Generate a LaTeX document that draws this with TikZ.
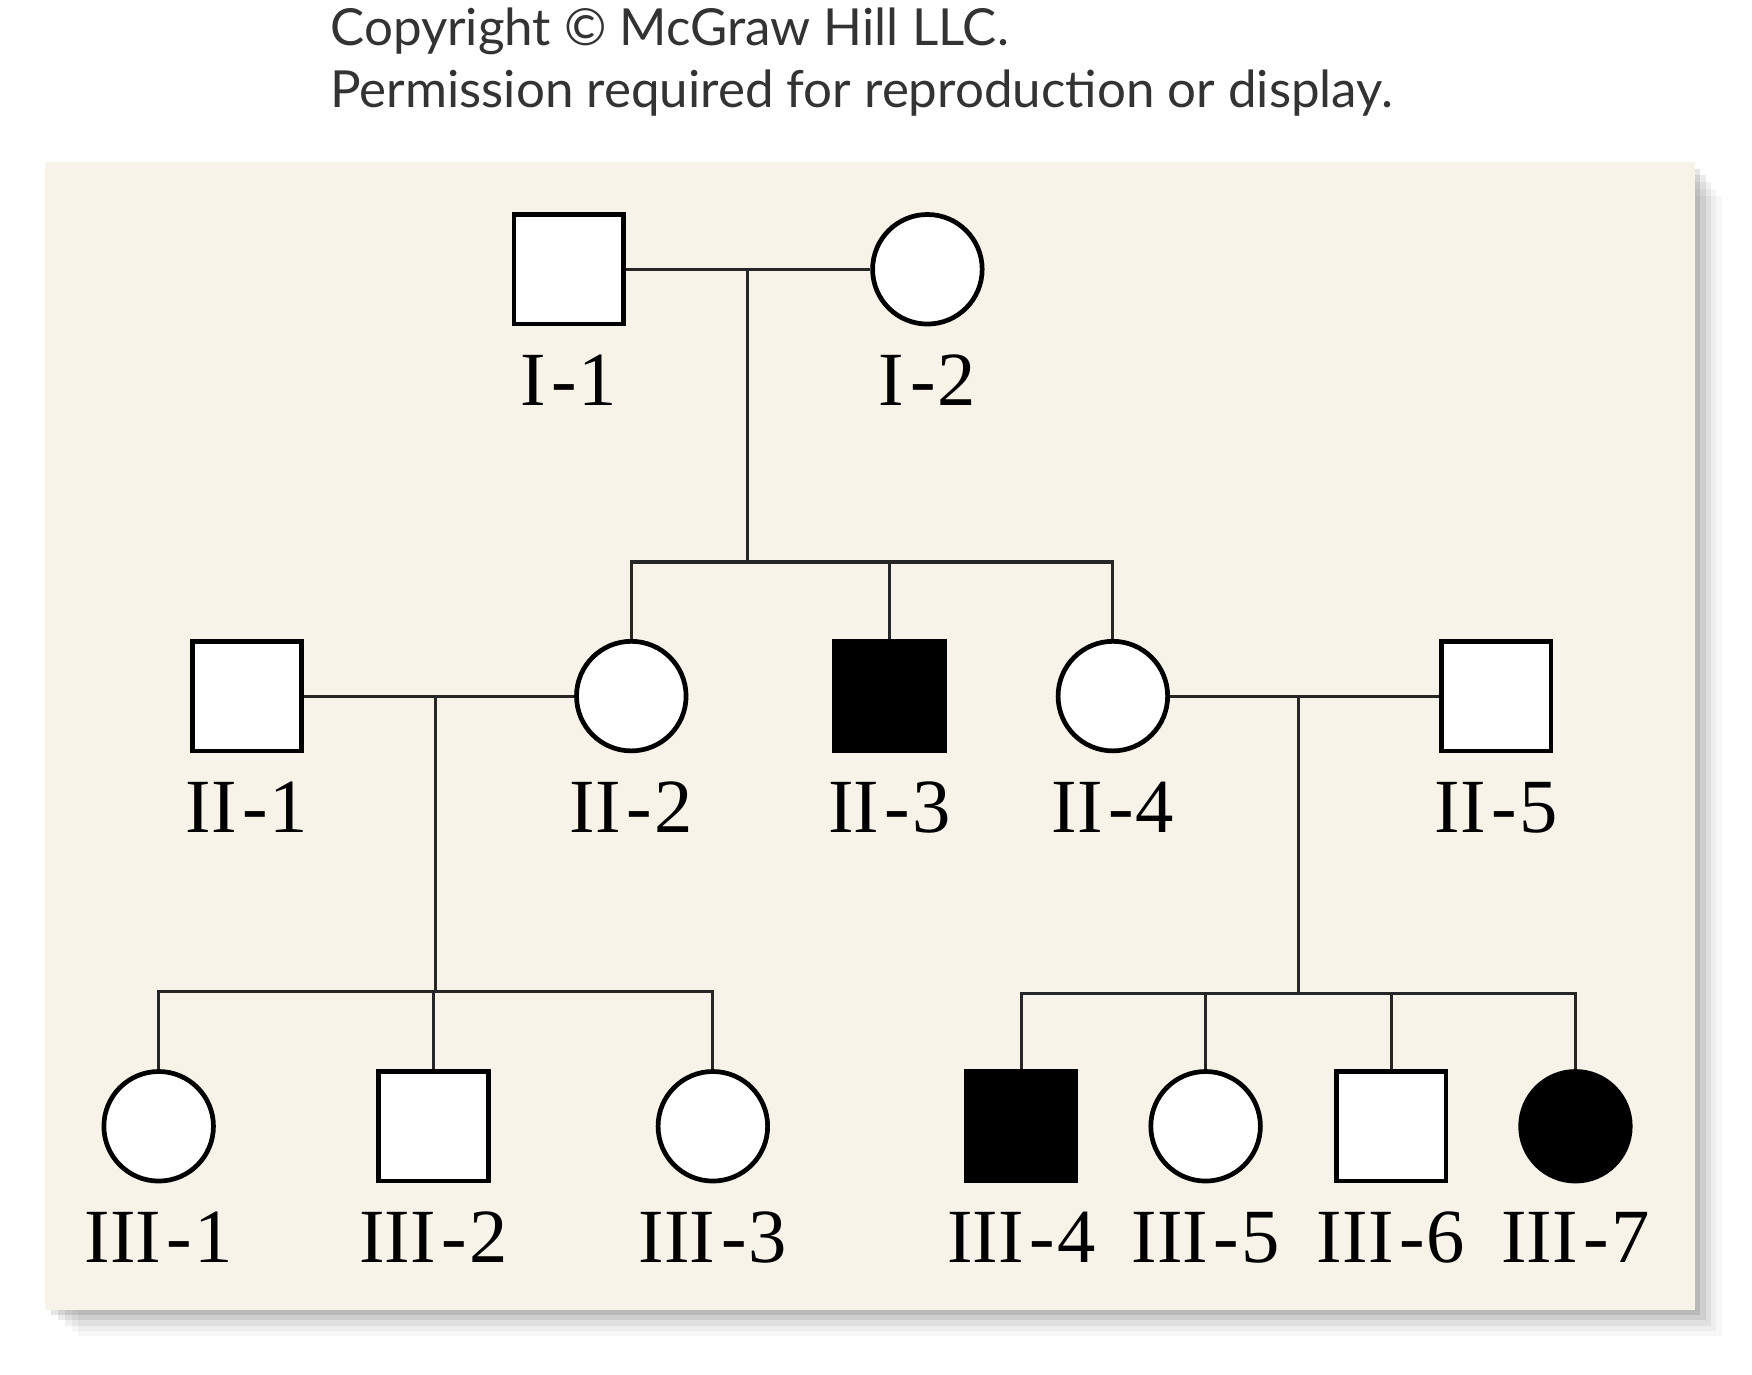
\documentclass[tikz,border=0pt]{standalone}
\usepackage{fontspec}
\setmainfont{Liberation Serif}
\newfontfamily\headfont{Lato}
\usetikzlibrary{positioning}
\definecolor{panel}{HTML}{F7F3E8}
\tikzset{
  male/.style={draw, line width=1.2pt, fill=white, minimum size=0.98cm, inner sep=0pt},
  female/.style={male, circle},
  sick/.style={fill=black},
  lab/.style={font=\fontsize{19.5}{20}\selectfont, inner sep=0pt},
  link/.style={line width=0.8pt, draw=black!85}
}
\newcommand{\pid}[2]{#1\kern1.5pt-\kern0.5pt#2}
\begin{document}
\begin{tikzpicture}[x=0.01cm,y=-0.01cm]
  \useasboundingbox (0,0) rectangle (1568,1230);

  \node[anchor=west, font=\headfont\fontsize{13}{15}\selectfont, text=black!80, inner sep=0pt] (copy) at (295,28) {Copyright \textcopyright\ McGraw Hill LLC.};
  \node[anchor=west, font=\headfont\fontsize{13}{15}\selectfont, text=black!80, inner sep=0pt] (perm) at (295,83) {Permission required for reproduction or display.};

  % shadow and panel
  \foreach \d/\o in {20/0.03,16/0.04,12/0.06,8/0.08,4/0.1}
    \fill[black, opacity=\o] (40+\d*1.5,145+\d*1.5) rectangle (1517+\d*1.2,1172+\d*1.2);
  \fill[panel] (40,145) rectangle (1517,1172);

  % generation I
  \node[male] (I1) at (509,241) {};
  \node[female] (I2) at (830,241) {};

  % generation II
  \node[male] (II1) at (221,623) {};
  \node[female] (II2) at (565,623) {};
  \node[male, sick] (II3) at (796,623) {};
  \node[female] (II4) at (996,623) {};
  \node[male] (II5) at (1339,623) {};

  % generation III
  \node[female] (III1) at (142,1008) {};
  \node[male] (III2) at (388,1008) {};
  \node[female] (III3) at (638,1008) {};
  \node[male, sick] (III4) at (914,1008) {};
  \node[female] (III5) at (1079,1008) {};
  \node[male] (III6) at (1245,1008) {};
  \node[female, sick] (III7) at (1410,1008) {};

  % labels
  \node[lab, below=0.25cm of I1] (lI1) {\pid{I}{1}};
  \node[lab, below=0.25cm of I2] (lI2) {\pid{I}{2}};
  \foreach \n in {1,...,5}
    \node[lab, below=0.25cm of II\n] (lII\n) {\pid{II}{\n}};
  \foreach \n in {1,...,7}
    \node[lab, below=0.25cm of III\n] (lIII\n) {\pid{III}{\n}};

  % couples and sibship lines
  \coordinate (m1) at (669,241);
  \coordinate (s1) at (669,503);
  \coordinate (m2) at (390,623);
  \coordinate (s2) at (390,887);
  \coordinate (m3) at (1162,623);
  \coordinate (s3) at (1162,889);

  \draw[link] (I1) -- (I2);
  \draw[link] (m1) -- (s1);
  \draw[link] (s1) -| (II2.north);
  \draw[link] (s1) -| (II3.north);
  \draw[link] (s1) -| (II4.north);

  \draw[link] (II1) -- (II2);
  \draw[link] (m2) -- (s2);
  \draw[link] (s2) -| (III1.north);
  \draw[link] (s2) -| (III2.north);
  \draw[link] (s2) -| (III3.north);

  \draw[link] (II4) -- (II5);
  \draw[link] (m3) -- (s3);
  \draw[link] (s3) -| (III4.north);
  \draw[link] (s3) -| (III5.north);
  \draw[link] (s3) -| (III6.north);
  \draw[link] (s3) -| (III7.north);
\end{tikzpicture}
\end{document}
